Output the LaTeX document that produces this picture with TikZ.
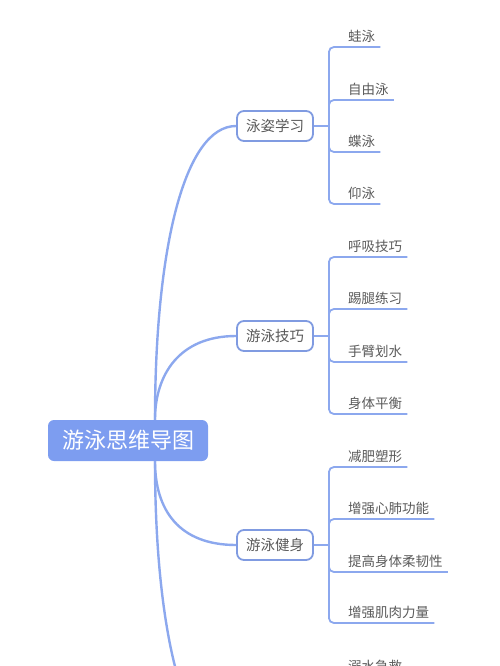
\documentclass[tikz,border=0pt]{standalone}
\usepackage{fontspec}
\newfontfamily\cjk{Noto Sans CJK SC}
\definecolor{MapBlue}{RGB}{125, 157, 240}
\definecolor{LineBlue}{RGB}{140, 168, 238}
\definecolor{EdgeBlue}{RGB}{128, 155, 225}
\definecolor{TextGrey}{RGB}{90, 90, 90}
\usetikzlibrary{positioning, calc}

\begin{document}
\begin{tikzpicture}[x=1pt, y=-1pt,
    rootbox/.style={fill=MapBlue, rounded corners=6pt, text=white, font=\cjk\fontsize{22}{22}\selectfont, minimum width=160pt, minimum height=41pt, inner sep=0pt},
    topicbox/.style={draw=EdgeBlue, line width=1.8pt, fill=white, rounded corners=7pt, text=TextGrey, font=\cjk\fontsize{14.5}{14.5}\selectfont, minimum width=76pt, minimum height=30pt, inner sep=0pt},
    leaf/.style={anchor=south west, text=TextGrey, font=\cjk\fontsize{13.5}{13.5}\selectfont, inner xsep=5pt, inner ysep=3.5pt, text height=11pt, text depth=2pt},
    trunk/.style={LineBlue, line width=2.4pt},
    twig/.style={LineBlue, line width=1.8pt, rounded corners=5pt}]
                \useasboundingbox (0,0) rectangle (500,666);
                \clip (0,0) rectangle (500,666);

                % Root
                \node[rootbox] (root) at (128,440.5) {游泳思维导图};
                \coordinate (rtop) at ($(root.north)+(27,0)$);
                \coordinate (rbot) at ($(root.south)+(27,0)$);

                % Main topics
                \node[topicbox] (t1) at (275,126) {泳姿学习};
                \node[topicbox] (t2) at (275,336) {游泳技巧};
                \node[topicbox] (t3) at (275,545) {游泳健身};
                \coordinate (t4) at (237,755);

                \draw[trunk] (rtop) .. controls +(0,-170) and +(-52,0) .. (t1.west);
                \draw[trunk] (rtop) .. controls +(0,-45) and +(-57,0) .. (t2.west);
                \draw[trunk] (rbot) .. controls +(0,49) and +(-57,0) .. (t3.west);
                \draw[trunk] (rbot) .. controls +(0,171) and +(-52,0) .. (t4);

                % Leaves
                \node[leaf] (l11) at (343,47) {蛙泳};
                \node[leaf] (l12) at (343,100) {自由泳};
                \node[leaf] (l13) at (343,152) {蝶泳};
                \node[leaf] (l14) at (343,204) {仰泳};

                \node[leaf] (l21) at (343,257) {呼吸技巧};
                \node[leaf] (l22) at (343,309) {踢腿练习};
                \node[leaf] (l23) at (343,362) {手臂划水};
                \node[leaf] (l24) at (343,414) {身体平衡};

                \node[leaf] (l31) at (343,467) {减肥塑形};
                \node[leaf] (l32) at (343,519) {增强心肺功能};
                \node[leaf] (l33) at (343,572) {提高身体柔韧性};
                \node[leaf] (l34) at (343,623) {增强肌肉力量};

                \node[leaf] (l41) at (343,677) {溺水急救};

                % Brackets
                \coordinate (j1) at ($(t1.east)+(15,0)$);
                \coordinate (j2) at ($(t2.east)+(15,0)$);
                \coordinate (j3) at ($(t3.east)+(15,0)$);
                \coordinate (j4) at (328,755);
                \draw[twig] (t1.east) -- (j1);
                \draw[twig] (t2.east) -- (j2);
                \draw[twig] (t3.east) -- (j3);

                \draw[twig] (j1) |- (l11.south east);
                \draw[twig] (j1) |- (l12.south east);
                \draw[twig] (j1) |- (l13.south east);
                \draw[twig] (j1) |- (l14.south east);

                \draw[twig] (j2) |- (l21.south east);
                \draw[twig] (j2) |- (l22.south east);
                \draw[twig] (j2) |- (l23.south east);
                \draw[twig] (j2) |- (l24.south east);

                \draw[twig] (j3) |- (l31.south east);
                \draw[twig] (j3) |- (l32.south east);
                \draw[twig] (j3) |- (l33.south east);
                \draw[twig] (j3) |- (l34.south east);

                \draw[twig] (j4) |- (l41.south east);
            \end{tikzpicture}
\end{document}
